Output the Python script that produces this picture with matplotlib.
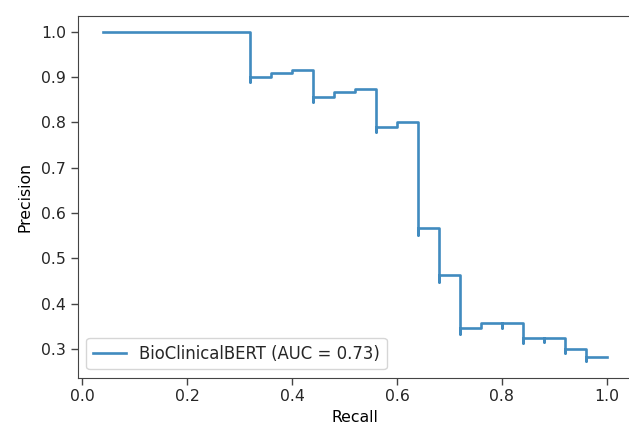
# precision-recall curve, BioClinicalBERT
import matplotlib
matplotlib.use('Agg')
import matplotlib.pyplot as plt

# points in the order sklearn gives them (recall going down)
recall = [1.00, 0.96, 0.96, 0.92, 0.92, 0.88, 0.88, 0.84, 0.84, 0.80, 0.80,
          0.76, 0.72, 0.72, 0.68, 0.68, 0.64, 0.64, 0.60, 0.56, 0.56, 0.52,
          0.48, 0.44, 0.44, 0.40, 0.36, 0.32, 0.32, 0.04]
precision = [0.281, 0.273, 0.300, 0.291, 0.324, 0.314, 0.324, 0.313, 0.356, 0.345, 0.357,
             0.345, 0.333, 0.462, 0.447, 0.567, 0.552, 0.800, 0.789, 0.778, 0.875, 0.867,
             0.857, 0.846, 0.917, 0.909, 0.900, 0.889, 1.000, 1.000]
label = 'BioClinicalBERT (AUC = 0.73)'

fs = 11.3
plt.rcParams['text.color'] = '#262626'
plt.rcParams['xtick.labelcolor'] = '#262626'
plt.rcParams['ytick.labelcolor'] = '#262626'

fig = plt.figure(figsize=(6.29, 4.29), dpi=100)
# right spine falls outside the picture, as in the screenshot
ax = fig.add_axes([78 / 629, 51.5 / 429, 554 / 629, 362 / 429])
ax.plot(recall, precision, drawstyle='steps-post', color='#1f77b4', lw=1.9,
        alpha=0.85, label=label)

for s in ax.spines.values():
    s.set_color('#444444')
ax.set_xlabel('Recall', fontsize=fs)
ax.set_ylabel('Precision', fontsize=fs, labelpad=6)
ax.tick_params(labelsize=fs, width=1, length=5, color='#444444')
ax.legend(loc='lower left', fontsize=11.9)

fig.savefig('out.png', dpi=100)
